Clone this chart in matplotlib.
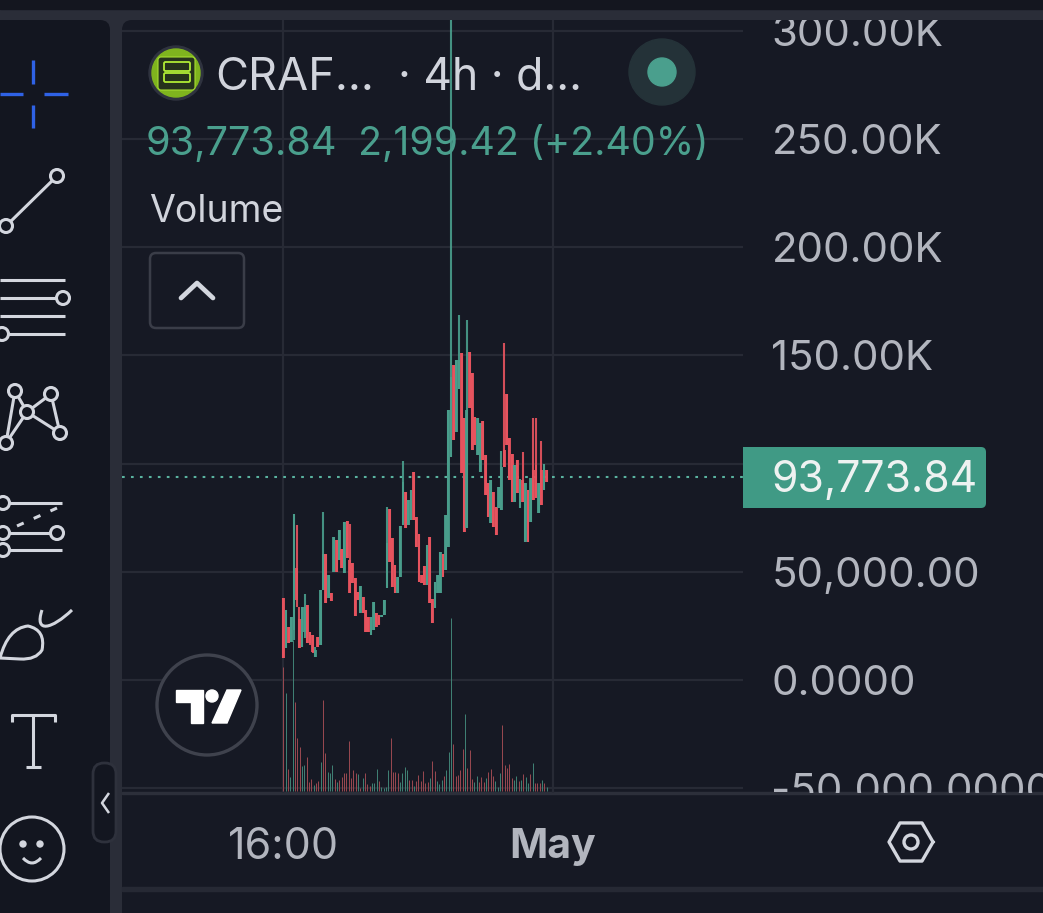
"""Dark TradingView phone crop: 4h candles with volume, plus the toolbar chrome."""
import matplotlib
matplotlib.use("Agg")
import matplotlib.pyplot as plt
import numpy as np
from matplotlib.path import Path
from matplotlib.patches import Circle, FancyBboxPatch, PathPatch, Polygon, Rectangle
from matplotlib.transforms import Bbox

plt.rcParams["font.family"] = ["Inter", "DejaVu Sans"]

W, H = 1043, 913

# candles, prices in thousands
colors = ("rgrggrrggr" "rrgrggrgrg" "rgrgrrrrrg" "rrrggrrggg" "rrrgggrggr"
          "rrrrgrrggg" "rgggrggrrg" "rrrggrrrgr" "rggrrrrg" "rgrgrgrrg" "rg")
opens = [37.7, 14.6, 24.6, 17.7, 23.1, 51.6, 28.0, 15.4, 22.3, 34.6,
         22.3, 20.8, 10.8, 20.0, 16.2, 41.6, 58.2, 37.7, 40.0, 50.0,
         64.7, 55.4, 60.4, 49.3, 73.6, 55.4, 53.9, 47.0, 40.8, 30.8,
         38.5, 32.3, 28.9, 20.8, 23.1, 31.1, 30.0, 29.3, 30.0, 42.4,
         79.0, 65.4, 53.1, 40.0, 47.7, 71.6, 87.0, 71.6, 73.9, 96.2,
         75.1, 67.4, 48.5, 52.7, 43.9, 65.9, 37.3, 33.1, 40.0, 40.0,
         58.2, 50.8, 61.6, 103.2, 145.5, 114.7, 134.7, 151.2, 120.9, 70.1,
         151.4, 141.7, 121.7, 103.9, 96.2, 119.8, 103.9, 90.9, 72.4, 87.0,
         80.1, 79.3, 78.5, 98.6, 132.0, 111.6, 104.3, 99.3,
         86.2, 92.9, 82.4, 90.9, 63.9, 93.2, 83.2, 99.3, 90.9, 80.8,
         99.6, 91.6]
closes = [10.0, 32.3, 16.9, 28.9, 76.7, 37.0, 14.6, 33.9, 33.9, 16.9,
          16.9, 13.1, 13.9, 15.4, 41.6, 58.2, 35.4, 48.5, 36.7, 66.2,
          50.0, 69.3, 51.6, 73.1, 56.2, 40.0, 44.7, 29.6, 37.0, 43.4,
          30.8, 22.3, 22.3, 29.3, 35.9, 24.6, 25.4, 30.0, 37.0, 63.1,
          54.7, 43.1, 40.0, 47.7, 71.1, 91.6, 70.1, 83.2, 87.8, 73.9,
          61.6, 45.4, 44.7, 43.9, 62.4, 35.4, 26.2, 45.4, 48.5, 59.0,
          47.4, 76.2, 124.7, 140.0, 110.9, 148.1, 148.1, 95.5, 68.5, 124.7,
          125.5, 106.3, 108.6, 120.9, 118.6, 101.6, 85.5, 75.5, 92.4, 70.9,
          67.0, 89.3, 98.6, 106.3, 108.6, 92.4, 82.4, 82.4,
          101.6, 79.3, 92.4, 63.9, 87.8, 73.2, 97.0, 83.9, 77.0, 97.0,
          87.8, 97.0]
highs = [37.7, 32.3, 24.6, 28.9, 76.7, 71.6, 33.9, 33.9, 39.6, 34.6,
         22.3, 20.8, 15.4, 20.0, 41.6, 77.8, 58.2, 48.5, 40.0, 66.2,
         64.7, 69.3, 60.4, 73.1, 73.6, 71.9, 53.9, 47.0, 40.8, 43.4,
         38.5, 32.3, 28.9, 29.3, 35.9, 31.1, 30.0, 30.0, 37.0, 80.1,
         79.0, 65.4, 53.1, 47.7, 71.1, 101.2, 87.0, 83.2, 87.8, 96.2,
         75.1, 67.4, 48.5, 52.7, 62.4, 65.9, 37.3, 45.4, 48.5, 59.0,
         58.2, 76.2, 124.7, 306.0, 145.5, 148.1, 168.7, 151.2, 120.9, 166.3,
         151.4, 141.7, 121.7, 120.9, 118.6, 119.8, 103.9, 90.9, 92.4, 87.0,
         80.1, 89.3, 105.9, 155.8, 132.0, 111.6, 104.3, 99.3,
         101.6, 92.9, 105.2, 90.9, 87.8, 93.2, 120.9, 121.3, 90.9, 110.6,
         99.6, 97.0]
lows = [10.0, 14.6, 16.9, 17.7, 18.5, 33.9, 14.6, 15.4, 19.2, 16.9,
        16.2, 12.6, 10.8, 15.4, 16.2, 41.6, 35.4, 37.7, 36.7, 50.0,
        50.0, 55.4, 51.6, 49.3, 56.2, 40.0, 44.7, 29.6, 37.0, 30.8,
        30.8, 22.3, 22.3, 20.8, 23.1, 24.6, 25.4, 29.3, 30.0, 42.4,
        54.7, 43.1, 40.0, 40.0, 47.7, 71.6, 70.1, 71.6, 73.9, 73.9,
        61.6, 45.4, 44.7, 43.9, 43.9, 35.4, 26.2, 33.1, 40.0, 40.0,
        47.4, 50.8, 61.6, 103.2, 110.9, 114.7, 134.7, 95.5, 68.5, 70.1,
        125.5, 106.3, 108.6, 103.9, 96.2, 101.6, 85.5, 75.5, 72.4, 70.9,
        67.0, 79.3, 78.5, 98.6, 108.6, 92.4, 82.4, 82.4,
        86.2, 79.3, 82.4, 63.9, 63.9, 73.2, 83.2, 83.9, 77.0, 80.8,
        87.8, 91.6]

# volume bars, relative units
volumes = [124, 98, 22, 14, 151, 89, 53, 44, 25, 26,
           34, 9, 12, 6, 8, 10, 29, 91, 38, 19,
           18, 26, 12, 9, 11, 14, 18, 18, 50, 13,
           21, 18, 17, 3, 13, 18, 7, 5, 8, 8,
           22, 10, 4, 3, 4, 21, 53, 19, 19, 18,
           9, 18, 24, 21, 11, 11, 5, 10, 16, 10,
           20, 8, 9, 13, 30, 20, 10, 7, 11, 15,
           21, 39, 173, 47, 15, 16, 21, 42, 77, 23,
           41, 12, 9, 15, 9, 14, 9, 13, 19, 22,
           15, 10, 4, 18, 66, 26, 23, 27, 13, 11,
           15, 10, 11, 17, 14, 8, 17, 28, 8, 8,
           8, 11, 8, 4]
volume_colors = ("rgrggrrrgg" "rrrgrrgrrg" "ggrgrrrrrr" "rrgrgrrrgg" "grggggrrrr"
                 "ggggrrgrrr" "rrrgrrgggr" "gggrrrrrgr" "rrggrrrgrr" "rgggrrrrrg"
                 "grgrggrgrr" "rgrg")

# the 100,000.00 label sits behind the last price tag
price_ticks = [-50, 0, 50, 100, 150, 200, 250, 300]
price_labels = ["-50,000.0000", "0.0000", "50,000.00", "",
                "150.00K", "200.00K", "250.00K", "300.00K"]
last_price = 93.77384

BG = "#161924"
PANEL = "#131620"
STRIP = "#2a2d38"
GRID = "#272a35"
UP = "#4a9f8d"
DOWN = "#e9545f"
TEXT = "#b2b5be"
ICON = "#d3d6de"


def px_axes(fig, zorder):
    a = fig.add_axes([0, 0, 1, 1], zorder=zorder)
    a.set_xlim(0, W)
    a.set_ylim(H, 0)
    a.axis("off")
    a.patch.set_alpha(0)
    return a


def stroke(a, xs, ys, color=ICON, lw=2.2, **kw):
    a.plot(xs, ys, color=color, lw=lw, solid_capstyle="butt", **kw)


def ring(a, x, y, r=6.5, color=ICON, lw=2.2, face=PANEL):
    a.add_patch(Circle((x, y), r, fc=face, ec=color, lw=lw, zorder=5))


def draw_chrome(bg):
    bg.add_patch(Rectangle((0, 0), W, H, color=STRIP))
    bg.add_patch(Rectangle((0, 0), W, 9, color="#14161f"))
    bg.add_patch(FancyBboxPatch((-20, 20), 130, 950, boxstyle="round,pad=0,rounding_size=10",
                                fc=PANEL, ec="none"))
    bg.add_patch(FancyBboxPatch((122, 20), 960, 950, boxstyle="round,pad=0,rounding_size=10",
                                fc=BG, ec="none"))
    bg.add_patch(Rectangle((122, 887), W - 122, 4, color="#262934"))
    bg.add_patch(Rectangle((122, 792), W - 122, 2.5, color="#2c2f3a"))


def draw_tools(a):
    # crosshair
    for xs, ys in [((0, 23), (94, 94)), ((44, 68), (94, 94)),
                   ((33, 33), (60, 84)), ((33, 33), (105, 128))]:
        stroke(a, xs, ys, color="#2f62e6", lw=2.4)
    # trend line
    stroke(a, (6, 57), (226, 176))
    ring(a, 57, 176)
    ring(a, 6, 226)
    # parallel lines
    stroke(a, (0, 65), (280, 280))
    stroke(a, (0, 63), (298, 298))
    stroke(a, (0, 65), (316, 316))
    stroke(a, (2, 65), (334, 334))
    ring(a, 63, 298)
    ring(a, 2, 334)
    # pattern
    pts = {"a": (6, 443), "b": (15, 391), "c": (27, 412), "d": (51, 394), "e": (60, 433)}
    for p, q in ["ab", "bc", "ce", "ed", "dc", "ca"]:
        stroke(a, (pts[p][0], pts[q][0]), (pts[p][1], pts[q][1]))
    for p in pts.values():
        ring(a, *p)
    # forecast
    stroke(a, (3, 62), (503, 503))
    stroke(a, (3, 62), (533, 533))
    stroke(a, (3, 62), (550, 550))
    a.plot((17, 57), (526, 508), color=ICON, lw=2.2, ls=(0, (2.4, 3.6)))
    for x, y in [(3, 503), (3, 533), (57, 533), (3, 550)]:
        ring(a, x, y)
    # brush
    verts = [(0, 658), (8, 628), (28, 626), (46, 630), (42, 650), (36, 660), (20, 659), (0, 658)]
    codes = [Path.MOVETO, Path.CURVE3, Path.CURVE3, Path.CURVE3, Path.CURVE3, Path.CURVE3,
             Path.LINETO, Path.LINETO]
    a.add_patch(PathPatch(Path(verts, codes), fc="none", ec=ICON, lw=2.2))
    a.add_patch(PathPatch(Path([(42, 610), (34, 634), (52, 629), (72, 610)],
                               [Path.MOVETO, Path.CURVE4, Path.CURVE4, Path.CURVE4]),
                          fc="none", ec=ICON, lw=2.2))
    # text tool
    stroke(a, (12, 12, 55, 55), (722, 715, 715, 722))
    stroke(a, (33, 33), (715, 767))
    stroke(a, (26, 41), (767, 767))
    # smiley
    a.add_patch(Circle((32, 849), 32, fc="none", ec=ICON, lw=2.2))
    a.add_patch(Circle((23, 844), 3, color=ICON))
    a.add_patch(Circle((40, 844), 3, color=ICON))
    a.add_patch(PathPatch(Path([(23, 858), (32, 868), (41, 858)],
                               [Path.MOVETO, Path.CURVE3, Path.CURVE3]),
                          fc="none", ec=ICON, lw=2.2))
    # collapse pill
    a.add_patch(FancyBboxPatch((93, 763), 23, 79, boxstyle="round,pad=0,rounding_size=11",
                               fc=PANEL, ec="#2e313c", lw=2))
    stroke(a, (109, 102, 109), (793, 803, 813), lw=1.8)


def draw_header(a):
    # coin logo
    a.add_patch(Circle((176, 73), 27, color="#2f333f"))
    a.add_patch(Circle((176, 73), 24, color="#7fb41e"))
    a.add_patch(FancyBboxPatch((158, 57), 37, 33, boxstyle="round,pad=0,rounding_size=3",
                               fc="#26331c", ec="#a5dd30", lw=0.8))
    for y in (62, 73):
        a.add_patch(FancyBboxPatch((164, y), 26, 9, boxstyle="round,pad=0,rounding_size=1.5",
                                   fc="none", ec="#b0ec35", lw=1.3))
    a.text(215, 73, "CRAF...", color="#d1d4dc", fontsize=32.5, va="center_baseline")
    a.text(398, 73, "· 4h · d...", color="#d1d4dc", fontsize=32, va="center_baseline")
    a.add_patch(Circle((662, 72), 33, color="#243238"))
    a.add_patch(Circle((662, 72), 14, color=UP))
    a.text(146, 140, "93,773.84", color=UP, fontsize=28.6, va="center_baseline")
    a.text(358, 140, "2,199.42 (+2.40%)", color=UP, fontsize=28.3, va="center_baseline")
    a.text(149, 208, "Volume", color="#d1d4dc", fontsize=27, va="center_baseline")
    a.add_patch(FancyBboxPatch((150, 253), 94, 75, boxstyle="round,pad=0,rounding_size=6",
                               fc=BG, ec="#3a3d48", lw=1.8))
    a.plot((181, 197, 213), (298, 283, 298), color=ICON, lw=3.4, solid_capstyle="round")
    # tradingview badge
    a.add_patch(Circle((207, 705), 50, fc=BG, ec="#3f424d", lw=2.4))
    a.add_patch(Polygon([(176, 690), (203, 690), (203, 723), (191, 723), (191, 702), (176, 702)],
                        color="white"))
    a.add_patch(Circle((212, 696), 6, color="white"))
    a.add_patch(Polygon([(227, 690), (241, 690), (227, 723), (212, 723)], color="white"))
    # bottom row
    a.text(284, 843, "16:00", color=TEXT, fontsize=31, ha="center", va="center_baseline")
    a.text(553, 843, "May", color=TEXT, fontsize=29.5, fontweight="bold", ha="center",
           va="center_baseline")
    ang = np.radians(np.arange(0, 361, 60))
    a.plot(911 + 22 * np.cos(ang), 842 + 22 * np.sin(ang), color=ICON, lw=2.4)
    a.add_patch(Circle((911, 842), 7, fc="none", ec=ICON, lw=2.4))
    # last price tag
    a.add_patch(FancyBboxPatch((900, 447), 86, 61, boxstyle="round,pad=0,rounding_size=5",
                               fc="#409a85", ec="none", zorder=1))
    a.add_patch(Rectangle((743, 447), 200, 61, color="#409a85", lw=0, zorder=1))
    a.text(772, 476, "93,773.84", color="#eef2f1", fontsize=30.8, va="center_baseline", zorder=3)


def main():
    fig = plt.figure(figsize=(W / 100, H / 100), dpi=100)
    bg = px_axes(fig, 0)
    draw_chrome(bg)

    # chart pane spans x 122-743, y 20-793; 0 sits at y=680, 50k is 108.2 px
    ax = fig.add_axes([122 / W, 1 - 793 / H, 621 / W, 773 / H], zorder=1)
    ax.patch.set_alpha(0)
    k_per_px = 50 / 108.2
    ax.set_ylim((680 - 793) * k_per_px, (680 - 20) * k_per_px)
    n = len(opens)
    px_per_bar = (546.7 - 283.3) / (n - 1)
    ax.set_xlim((122 - 283.3) / px_per_bar, (743 - 283.3) / px_per_bar)
    x = np.arange(n)
    cols = [UP if c == "g" else DOWN for c in colors]

    # volume pane shares the x scale, its units are free
    vol = ax.twinx()
    vol.set_ylim(-2, 771)
    vol.axis("off")
    vx = np.arange(len(volumes)) * (n - 1) / (len(volumes) - 1)
    vcols = ["#3f7f73" if c == "g" else "#96474f" for c in volume_colors]
    vol.vlines(vx, 0, volumes, color=vcols, lw=0.72)

    ax.set_yticks(price_ticks)
    ax.set_yticklabels(price_labels)
    ax.yaxis.tick_right()
    ax.tick_params(axis="y", length=0, pad=20.5, labelsize=30.2, labelcolor=TEXT)
    ax.set_xticks([0, (553 - 283.3) / px_per_bar])
    ax.set_xticklabels([])
    ax.tick_params(axis="x", length=0)
    ax.grid(True, color=GRID, lw=1.6)
    ax.set_axisbelow(True)
    for s in ax.spines.values():
        s.set_visible(False)
    clip = Bbox([[0, H - 793], [W, H - 20]])
    for lab in ax.get_yticklabels():
        lab.set_clip_on(True)
        lab.set_clip_box(clip)

    ax.axhline(last_price, color="#5ab3a0", lw=1.5, ls=(0, (1.3, 3)), zorder=2)
    ax.vlines(x, lows, highs, color=cols, lw=1.5, alpha=0.9, zorder=3)
    ax.bar(x, np.array(closes) - np.array(opens), bottom=opens, width=1.05, color=cols,
           alpha=0.9, linewidth=0, zorder=4)

    fg = px_axes(fig, 2)
    draw_tools(fg)
    draw_header(fg)

    fig.savefig("out.png", dpi=100, facecolor=STRIP)
    plt.close(fig)


if __name__ == "__main__":
    main()
